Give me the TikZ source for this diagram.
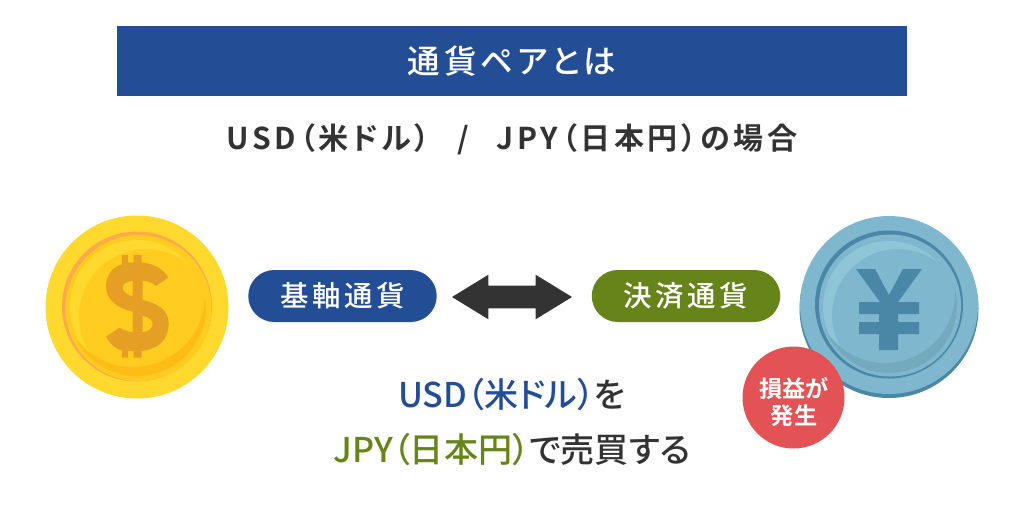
\documentclass[tikz,border=0pt]{standalone}
\usepackage{fontspec}
\usetikzlibrary{shapes.arrows}
\newfontfamily\jpb[RawFeature={+palt}]{Noto Sans CJK JP Bold}
\newfontfamily\jpw[RawFeature={+palt},LetterSpace=12]{Noto Sans CJK JP Bold}
\newfontfamily\jpm[RawFeature={+palt},LetterSpace=12]{Noto Sans CJK JP Medium}
\newfontfamily\jpr[RawFeature={+palt}]{Noto Sans CJK JP Medium}
\definecolor{navy}{HTML}{234E96}
\definecolor{moss}{HTML}{668419}
\definecolor{ink}{HTML}{333333}
\definecolor{rose}{HTML}{E35355}
\definecolor{gold}{HTML}{FFD92E}
\definecolor{goldA}{HTML}{FFCC1F}
\definecolor{goldB}{HTML}{FFBC14}
\definecolor{goldR}{HTML}{FFA94D}
\definecolor{goldS}{HTML}{E59F24}
\definecolor{teal}{HTML}{7EB7CE}
\definecolor{tealA}{HTML}{8EC6D8}
\definecolor{tealB}{HTML}{74AABD}
\definecolor{tealR}{HTML}{4A86A6}
\begin{document}
\begin{tikzpicture}[x=0.02cm,y=-0.02cm,
  pill/.style={shape=rectangle,rounded corners=0.52cm,minimum width=3.77cm,minimum height=1.04cm,inner sep=0pt,text=white,font=\jpm\fontsize{16.2}{16.2}\selectfont},
  line/.style={inner sep=0pt,font=\jpr\fontsize{19.4}{19.4}\selectfont,text=ink}]
\useasboundingbox (0,0) rectangle (1024,512);

\node[fill=navy,minimum width=15.8cm,minimum height=1.4cm,inner sep=0pt,text=white,font=\jpm\fontsize{18.55}{18.55}\selectfont] (title) at (512,61) {通貨ペアとは};
\node[inner sep=0pt,text=ink,font=\jpw\fontsize{17.1}{17.1}\selectfont] (pair) at (512,139) {USD（米ドル）\hspace{0.55cm}/\hspace{0.55cm}JPY（日本円）の場合};

% dollar coin
\fill[gold] (137,307) circle (91.5);
\fill[goldR] (137,306.5) circle (75);
\fill[goldA] (138.5,308) circle (73);
\begin{scope}
\clip (137,307) circle (67);
\fill[gold,even odd rule] (0,150) rectangle (300,450) (146,316) circle (67);
\end{scope}
\begin{scope}
\clip (137,307) circle (69);
\fill[goldB,even odd rule] (0,150) rectangle (300,450) (133,295) circle (72);
\end{scope}
\begin{scope}[shift={(96,245)},scale=0.3333]
\fill[goldS,even odd rule] (217,97) .. controls (200,70) and (170,55) .. (137,52) -- (137,30) -- (113,30) -- (113,52) -- (96,52) -- (96,30) -- (78,30) -- (78,58)
  .. controls (50,65) and (30,90) .. (30,125) .. controls (30,165) and (65,190) .. (110,200) -- (110,262)
  .. controls (95,260) and (80,255) .. (70,248) -- (30,275) .. controls (45,300) and (60,312) .. (78,316) -- (78,338) -- (96,338) -- (96,318) -- (113,318) -- (113,338) -- (137,338) -- (137,318)
  .. controls (185,313) and (218,285) .. (218,235) .. controls (218,195) and (185,175) .. (140,165) -- (140,107)
  .. controls (155,108) and (170,113) .. (180,123) -- cycle
  (110,107) .. controls (90,110) and (80,117) .. (80,127) .. controls (80,140) and (95,150) .. (110,155) -- cycle
  (140,212) .. controls (160,218) and (170,225) .. (170,238) .. controls (170,250) and (155,260) .. (140,262) -- cycle;
\end{scope}

% yen coin
\fill[tealR] (889,308.5) circle (89.5);
\fill[teal] (889,305) circle (89);
\fill[tealR] (889,304.5) circle (74);
\fill[teal] (890,305.5) circle (71);
\begin{scope}
\clip (889,307) circle (66);
\fill[tealA,even odd rule] (750,150) rectangle (1020,450) (898,315) circle (66);
\end{scope}
\begin{scope}
\clip (889,305) circle (68);
\fill[tealB,even odd rule] (750,150) rectangle (1020,450) (885,293) circle (70);
\end{scope}
\fill[tealR] (856,269) -- (875,269) -- (889,295) -- (903,269) -- (922,269) -- (898,302) -- (919,302) -- (919,314) -- (898,314) -- (898,322) -- (919,322) -- (919,334) -- (898,334) -- (898,350) -- (879,350) -- (879,334) -- (859,334) -- (859,322) -- (879,322) -- (879,314) -- (859,314) -- (859,302) -- (880,302) -- cycle;

\node[pill,fill=navy] (base) at (342.5,296) {基軸通貨};
\node[pill,fill=moss] (quote) at (686,296) {決済通貨};
\node[shape=double arrow,fill=ink,inner sep=0.22cm,minimum height=2.4cm,double arrow head extend=0.22cm,double arrow tip angle=63] (swap) at (512,297) {};

\node[shape=circle,fill=rose,minimum size=2.04cm,inner sep=0pt] (gain) at (793.5,397.5) {};
\node[inner sep=0pt,text=white,align=center,font=\jpb\fontsize{13.2}{15.3}\selectfont] (gaintext) at (794,402) {損益が\\発生};

\node[line] (usd) at (512,395) {\textcolor{navy}{USD（米ドル）}を};
\node[line] (jpy) at (512,450) {\textcolor{moss}{JPY（日本円）}で売買する};
\end{tikzpicture}
\end{document}
